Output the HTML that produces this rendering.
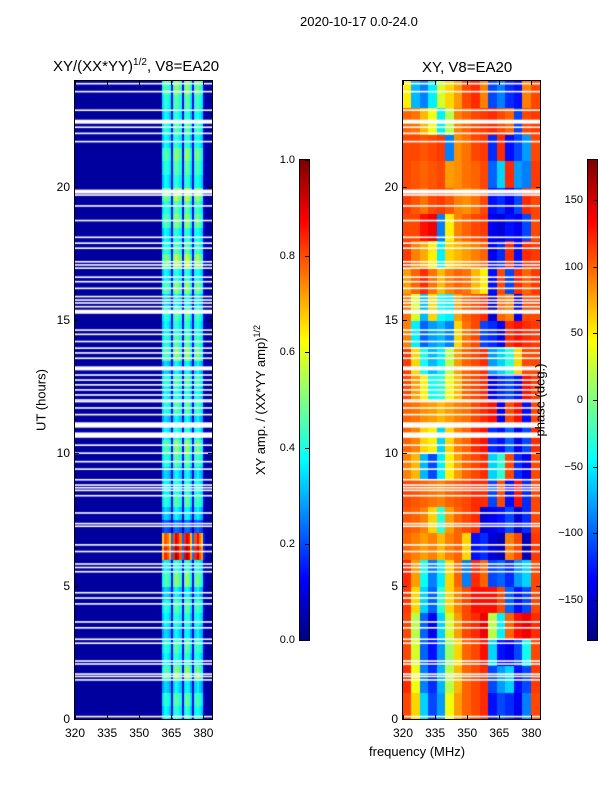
<!DOCTYPE html>
<html><head><meta charset="utf-8"><style>
body{margin:0;background:#fff;width:600px;height:800px;position:relative;overflow:hidden;font-family:"Liberation Sans",sans-serif;color:#000}
.t{position:absolute;white-space:nowrap}
canvas{position:absolute}
.ax{position:absolute;border:1px solid #000;box-sizing:border-box}
</style></head><body>
<div class="t" style="left:300px;top:14px;font-size:13px">2020-10-17 0.0-24.0</div>
<div class="t" style="left:53px;top:57px;font-size:15px">XY/(XX*YY)<sup style="font-size:10px">1/2</sup>, V8=EA20</div>
<div class="t" style="left:422px;top:59px;font-size:15px">XY, V8=EA20</div>
<div class="t" style="left:41px;top:400px;font-size:13px;transform:translate(-50%,-50%) rotate(-90deg)">UT (hours)</div>
<div class="t" style="left:260px;top:400px;font-size:13px;transform:translate(-50%,-50%) rotate(-90deg)">XY amp. / (XX*YY amp)<sup style="font-size:9px">1/2</sup></div>
<canvas id="c1" width="137" height="638" style="left:75px;top:81px"></canvas>
<canvas id="c2" width="137" height="638" style="left:403px;top:81px"></canvas>
<div class="t" style="left:540px;top:400px;font-size:13px;transform:translate(-50%,-50%) rotate(-90deg)">phase (deg.)</div>
<div class="t" style="left:369px;top:744px;font-size:13px">frequency (MHz)</div>
<canvas id="cb1" width="9" height="480" style="left:300px;top:160px"></canvas>
<canvas id="cb2" width="9" height="480" style="left:588px;top:160px"></canvas>
<div class="ax" style="left:74px;top:80px;width:139px;height:640px"></div>
<div class="ax" style="left:402px;top:80px;width:139px;height:640px"></div>
<div class="ax" style="left:299px;top:159px;width:11px;height:482px"></div>
<div class="ax" style="left:587px;top:159px;width:11px;height:482px"></div>
<div id="ticks"></div>
<script>
// ---- data ----
const freqStart = 320, freqEnd = 384;
const ampProfile = [
0.03,0.03,0.03,0.03,0.03,0.03,0.03,0.03,0.03,0.03,0.03,0.03,0.03,0.03,0.03,0.03,0.03,0.03,0.03,0.03,
0.03,0.03,0.03,0.03,0.03,0.03,0.03,0.03,0.03,0.03,0.03,0.03,0.03,0.03,0.03,0.03,0.03,0.03,0.03,0.03,0.03,
0.35,0.42,0.40,0.36,0.12,0.42,0.48,0.45,0.40,0.12,0.44,0.48,0.45,0.36,0.12,0.42,0.46,0.40,0.36,0.08,0.04,0.03,0.03];
const ampRowGain = [0.9,1.0,0.8,1.1,0.9,1.0,0.8,0.9,1.0,0.8,1.1,0.9,2.0,1.9,0.5,0.8,1.0,0.9,0.8,1.0,1.1,0.9,0.8,1.0,
0.9,1.0,0.8,1.1,1.0,0.9,1.0,0.8,1.1,0.9,1.2,1.0,0.9,1.1,1.0,1.2,0.9,1.0,1.1,0.9,1.0,0.9,1.0,1.1];
const phaseFreqs = [320,324,328,332,336,340,344,348,352,356,360,364,368,372,376,380];
const phase = [
[110,60,-60,-110,-80,40,80,100,110,120,-130,-110,-120,-140,-90,110],
[120,40,-90,-120,-70,20,70,100,110,120,-110,-80,-60,-130,-110,115],
[110,30,-100,-130,-80,10,60,100,110,130,-60,-130,-140,-110,-40,110],
[110,20,-100,-140,-60,30,80,110,120,140,20,-50,100,130,140,120],
[115,60,-60,-100,-30,60,90,110,130,130,130,110,-100,-130,-110,110],
[120,80,-40,-90,-50,60,100,-90,120,100,-110,-100,-120,-80,-60,110],
[100,90,80,90,70,90,100,60,-130,-120,-150,-160,90,110,-160,115],
[105,100,90,60,-30,80,100,110,120,-150,-140,-130,-110,-150,-120,110],
[110,105,100,95,90,100,105,110,120,120,-110,110,-130,130,-120,110],
[90,70,-70,-110,-50,50,80,100,110,120,-60,-30,110,-120,-140,110],
[100,90,60,50,-60,60,90,100,120,130,-120,-130,-100,-140,-110,120],
[100,95,85,80,70,80,90,95,110,120,130,-140,110,130,-130,110],
[110,80,50,-40,-30,40,70,100,110,120,-140,-120,-110,-130,130,115],
[115,60,-40,-70,-50,20,80,100,110,120,-80,-60,-30,60,110,110],
[90,-50,-100,-80,-70,-90,60,95,110,-110,-120,-140,120,130,120,115],
[95,30,-70,60,-40,-50,80,100,110,120,-150,100,90,-140,110,110],
[80,100,120,95,70,90,100,95,70,50,-130,110,-110,120,100,115],
[115,90,75,50,-50,60,70,80,90,100,-140,-120,120,-130,120,115],
[110,110,130,140,-90,50,90,100,110,115,-140,-150,-130,-140,-110,110],
[115,105,95,110,115,105,90,85,95,110,-130,-120,-140,-110,120,110],
[110,105,100,105,110,80,85,95,100,110,-100,-60,120,-80,-90,115],
[110,110,105,110,115,-90,85,95,110,115,-120,120,-130,-110,-80,110],
[100,95,70,40,-50,20,90,100,110,115,120,110,100,-110,110,115],
[50,-70,-90,-50,30,60,80,110,120,90,-110,-90,-120,-130,90,110]];
const blankHours = [0.09,1.47,1.6,1.69,2.07,2.18,2.85,3.0,3.43,3.65,4.33,4.55,4.75,5.54,5.7,5.83,6.3,6.55,7.25,7.35,7.75,8.4,8.6,8.7,8.8,9.0,9.4,9.68,10.0,10.3,
10.68,11.06,11.45,11.7,11.94,12.0,12.19,12.38,12.57,12.75,12.94,13.19,13.57,13.77,13.95,14.2,14.47,14.63,15.32,15.51,15.65,15.76,15.89,16.2,16.45,16.62,
16.96,17.08,17.2,17.71,17.9,18.12,18.75,19.3,19.71,19.84,21.72,22.03,22.26,22.47,22.9,23.6,23.9];
const blankWidths = {10.68:0.2,11.06:0.2,13.19:0.15,15.32:0.15,19.84:0.15,22.47:0.15,7.3:0.12};
const yTicks = [0,5,10,15,20];
const xTicks = [320,335,350,365,380];
const ampTicks = [0.0,0.2,0.4,0.6,0.8,1.0];
const phaseTicks = [-150,-100,-50,0,50,100,150];
// ---- helpers ----
function jet(v){v=Math.max(0,Math.min(1,v));
 const f=(x)=>Math.max(0,Math.min(1,1.5-Math.abs(4*v-x)));
 return `rgb(${Math.round(f(3)*255)},${Math.round(f(2)*255)},${Math.round(f(1)*255)})`;}
const W=137,H=638;
const xs=f=>(f-freqStart)/(freqEnd-freqStart)*W;
const ys=h=>H-h/24*H;
const c1=document.getElementById('c1').getContext('2d');
for(let r=0;r<ampRowGain.length;r++){
 for(let c=0;c<ampProfile.length;c++){
  const f=freqStart+c, v=ampProfile[c]>0.05?ampProfile[c]*ampRowGain[r]:ampProfile[c];
  c1.fillStyle=jet(v);
  const x0=xs(f),x1=xs(f+1),y0=ys((r+1)*0.5),y1=ys(r*0.5);
  c1.fillRect(Math.floor(x0),Math.floor(y0),Math.ceil(x1)-Math.floor(x0),Math.ceil(y1)-Math.floor(y0));
 }}
const c2=document.getElementById('c2').getContext('2d');
for(let r=0;r<phase.length;r++){
 for(let c=0;c<phaseFreqs.length;c++){
  const f=phaseFreqs[c];
  c2.fillStyle=jet((phase[r][c]+180)/360);
  const x0=xs(f),x1=xs(f+4),y0=ys(r+1),y1=ys(r);
  c2.fillRect(Math.floor(x0),Math.floor(y0),Math.ceil(x1)-Math.floor(x0),Math.ceil(y1)-Math.floor(y0));
 }}
[c1,c2].forEach(ctx=>{ctx.fillStyle='#fff';
 blankHours.forEach(h=>{const w=blankWidths[h]||0.06;ctx.fillRect(0,ys(h+w/2),W,Math.max(1.5,w/24*H));});});
['cb1','cb2'].forEach(id=>{const ctx=document.getElementById(id).getContext('2d');
 for(let y=0;y<480;y++){ctx.fillStyle=jet(1-y/479);ctx.fillRect(0,y,9,1);}});
const T=document.getElementById('ticks');
function lab(txt,x,y,name,align,fs){const d=document.createElement('div');d.className='t';d.textContent=txt;
 d.style.left=x+'px';d.style.top=y+'px';d.style.fontSize=(fs||12)+'px';
 d.style.transform=align==='r'?'translate(-100%,-50%)':align==='l'?'translate(0,-50%)':'translate(-50%,0)';
 
 
 T.appendChild(d);}
function tk(x,y,w,h){const d=document.createElement('div');d.style.cssText=`position:absolute;left:${x}px;top:${y}px;width:${w}px;height:${h}px;background:#000`;
 
 
 T.appendChild(d);}
[75,403].forEach(px=>{
 yTicks.forEach(h=>{const y=81+ys(h);lab(String(h),px-5,y,'y-tick-label','r');tk(px,y,4,1);tk(px+133,y,4,1);});
 xTicks.forEach(f=>{const x=px+xs(f);lab(String(f),x,726,'x-tick-label','c');tk(x,715,1,4);tk(x,81,1,4);});
});
ampTicks.forEach(v=>{const y=640-v*480;lab(v.toFixed(1),295,y,'amp-colorbar-tick','r',11);tk(305,y,4,1);});
phaseTicks.forEach(v=>{const y=400-v*480/360;lab(String(v).replace('-','\u2212'),583,y,'phase-colorbar-tick','r',11);tk(593,y,4,1);});
</script>
</body></html>
